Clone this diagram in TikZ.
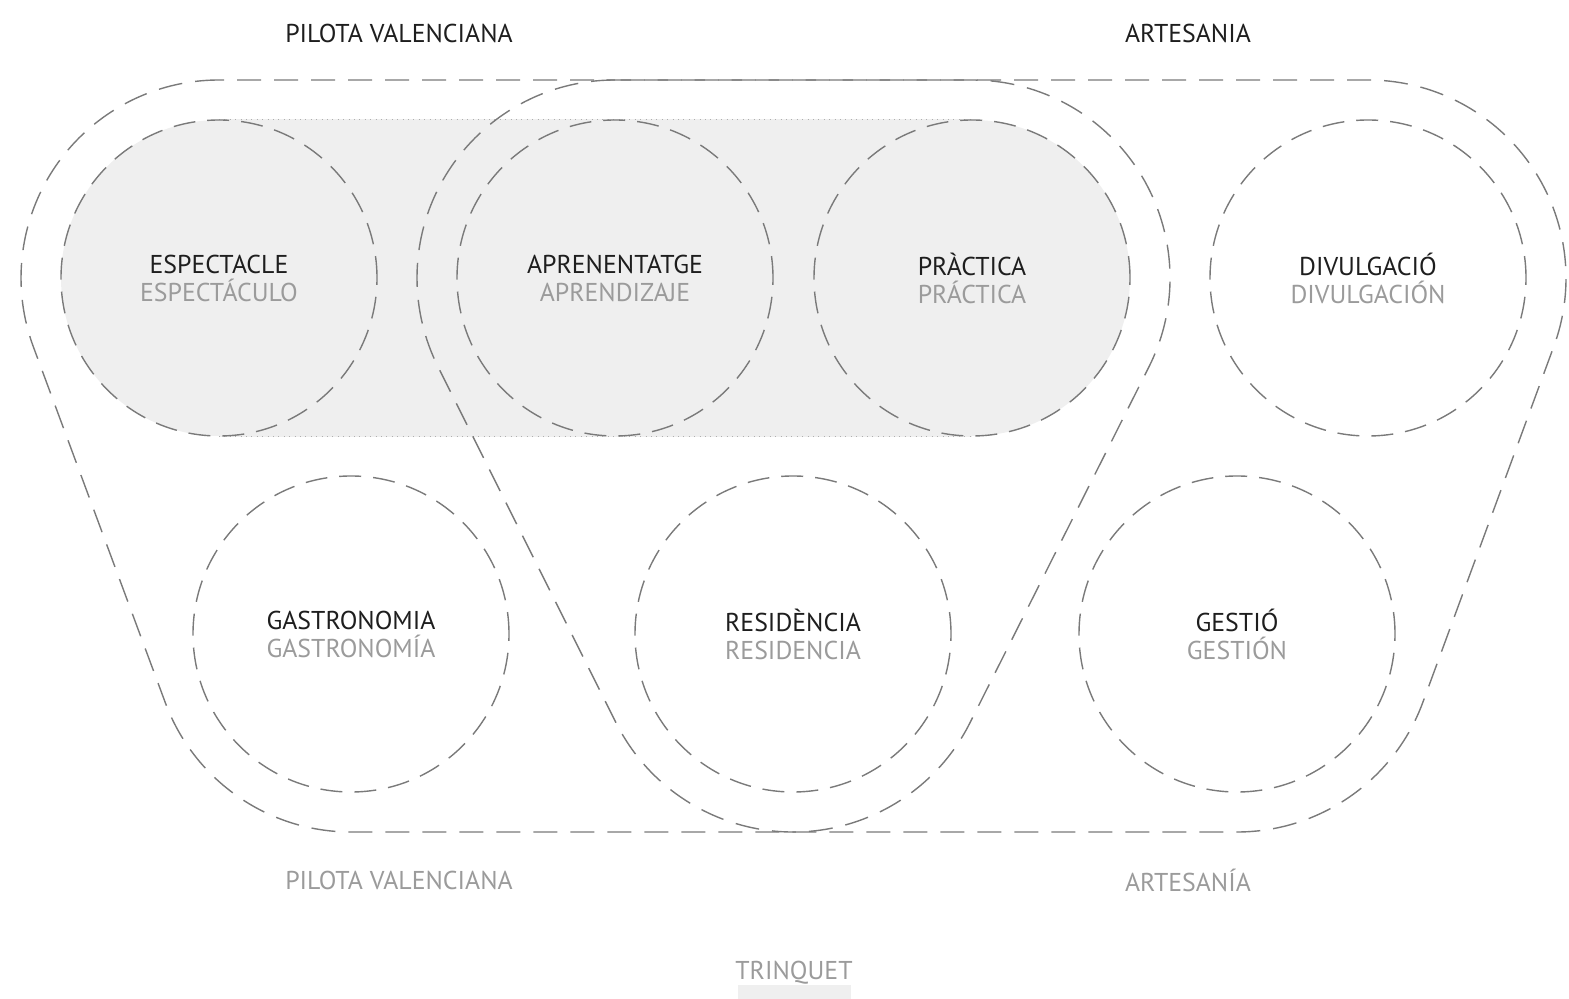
\documentclass[tikz,border=0pt]{standalone}
\usepackage{fontspec}
\setmainfont{PT Sans}
\usetikzlibrary{calc, backgrounds}
\definecolor{linegray}{HTML}{7A7A7A}
\definecolor{textdark}{HTML}{1E1E1E}
\definecolor{textgray}{HTML}{9B9B9B}
\definecolor{trinquet}{HTML}{EFEFEF}
\newcommand{\labelfont}{\fontsize{12.9pt}{14pt}\selectfont}
\newcommand{\castella}[1]{\textcolor{textgray}{#1}}
\tikzstyle{ambit} = [circle, minimum size=158pt, inner sep=0pt, draw=linegray, line width=0.7pt, dash pattern=on 11pt off 6pt, text=textdark, align=center, font=\labelfont]
\tikzstyle{hull} = [draw=linegray, line width=0.7pt, dash pattern=on 12pt off 6.5pt]
\tikzstyle{bandedge} = [draw=linegray!60, line width=0.5pt, dash pattern=on 0.5pt off 2.2pt]
\tikzstyle{caption} = [font=\labelfont, text=textdark]

\begin{document}
\begin{tikzpicture}[x=0.5pt, y=0.5pt]
			\useasboundingbox (0,0) rectangle (1569,-999);

			\node (espectacle) [ambit, fill=trinquet] at (219,-278) {ESPECTACLE\\\castella{ESPECTÁCULO}};
			\node (aprenentatge) [ambit, right of=espectacle, node distance=198pt] {APRENENTATGE\\\castella{APRENDIZAJE}};
			\node (practica) [ambit, fill=trinquet, right of=aprenentatge, node distance=178.5pt] {PRÀCTICA\\\castella{PRÁCTICA}};
			\node (divulgacio) [ambit, right of=practica, node distance=198pt] {DIVULGACIÓ\\\castella{DIVULGACIÓN}};
			\node (gastronomia) [ambit] at (351,-634) {GASTRONOMIA\\\castella{GASTRONOMÍA}};
			\node (residencia) [ambit, right of=gastronomia, node distance=221pt] {RESIDÈNCIA\\\castella{RESIDENCIA}};
			\node (gestio) [ambit, right of=residencia, node distance=222pt] {GESTIÓ\\\castella{GESTIÓN}};

			\begin{scope}[on background layer]
				\fill [trinquet] (espectacle.north) rectangle (practica.south);
				\draw [bandedge] (espectacle.north) -- (practica.north);
				\draw [bandedge] (espectacle.south) -- (practica.south);
			\end{scope}

			\draw [hull] ($(espectacle.center)+(90:198)$) arc[start angle=90, end angle=200.34, radius=198]
				-- ($(gastronomia.center)+(200.34:198)$) arc[start angle=200.34, end angle=270, radius=198]
				-- ($(gestio.center)+(270:198)$) arc[start angle=270, end angle=339.8, radius=198]
				-- ($(divulgacio.center)+(339.8:198)$) arc[start angle=339.8, end angle=450, radius=198]
				-- cycle;
			\draw [hull] ($(aprenentatge.center)+(90:198)$) arc[start angle=90, end angle=206.57, radius=198]
				-- ($(residencia.center)+(206.57:198)$) arc[start angle=206.57, end angle=333.31, radius=198]
				-- ($(practica.center)+(333.31:198)$) arc[start angle=333.31, end angle=450, radius=198]
				-- cycle;

			\node (pilota) [caption] at (399,-33) {PILOTA VALENCIANA};
			\node (artesania) [caption] at (1188,-33) {ARTESANIA};
			\node (pilotaes) [caption, text=textgray] at (399,-880) {PILOTA VALENCIANA};
			\node (artesaniaes) [caption, text=textgray] at (1188,-880) {ARTESANÍA};
			\node (trinquetlabel) [caption, text=textgray, anchor=base] at (794,-979) {TRINQUET};
			\node (trinquetbar) [fill=trinquet, minimum width=56.5pt, minimum height=7pt, inner sep=0pt, anchor=south] at (794.5,-999) {};
		\end{tikzpicture}
\end{document}
